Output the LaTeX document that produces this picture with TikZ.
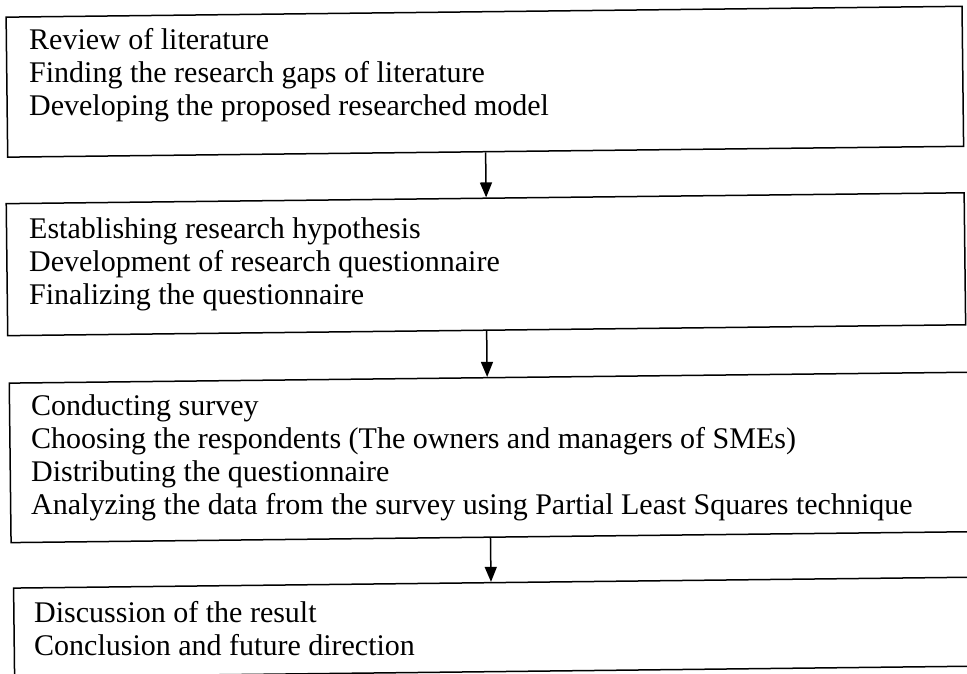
\documentclass[tikz,border=0pt]{standalone}
\usepackage{fontspec}
\setmainfont{Liberation Serif}
\usetikzlibrary{arrows.meta}
\begin{document}
\begin{tikzpicture}[x=1pt,y=-1pt,
  stepbox/.style={draw=black, line width=1.5pt, rectangle, inner sep=0pt, anchor=north west},
  txt/.style={anchor=north west, inner sep=0pt, align=left, font=\fontsize{30}{33}\selectfont},
  arr/.style={line width=1.5pt, -{Triangle[length=15pt,width=12pt]}}]
\useasboundingbox (0,0) rectangle (967,674);
\clip (0,0) rectangle (967,674);
\begin{scope}[rotate around={0.65:(483,337)}, transform shape]
\node[stepbox, minimum width=956pt, minimum height=140pt] (b1) at (9,11) {};
\node[stepbox, minimum width=958pt, minimum height=132pt] (b2) at (7,197.5) {};
\node[stepbox, minimum width=959pt, minimum height=159.5pt] (b3) at (8,377) {};
\node[stepbox, minimum width=965pt, minimum height=89pt] (b4) at (10,582) {};
\draw[arr] (b1.south) -- (b1.south |- b2.north);
\draw[arr] (b2.south) -- (b2.south |- b3.north);
\draw[arr] (b3.south) -- (b3.south |- b4.north);
\end{scope}
\node[txt] (t1) at (29,25.2) {\rule{0pt}{24pt}Review of literature\\Finding the research gaps of literature\\Developing the proposed researched model};
\node[txt] (t2) at (29,214) {\rule{0pt}{24pt}Establishing research hypothesis\\Development of research questionnaire\\Finalizing the questionnaire};
\node[txt] (t3) at (31,391.5) {\rule{0pt}{24pt}Conducting survey\\Choosing the respondents (The owners and managers of SMEs)\\Distributing the questionnaire\\Analyzing the data from the survey using Partial Least Squares technique};
\node[txt] (t4) at (34,598.5) {\rule{0pt}{24pt}Discussion of the result\\Conclusion and future direction};
\end{tikzpicture}
\end{document}
